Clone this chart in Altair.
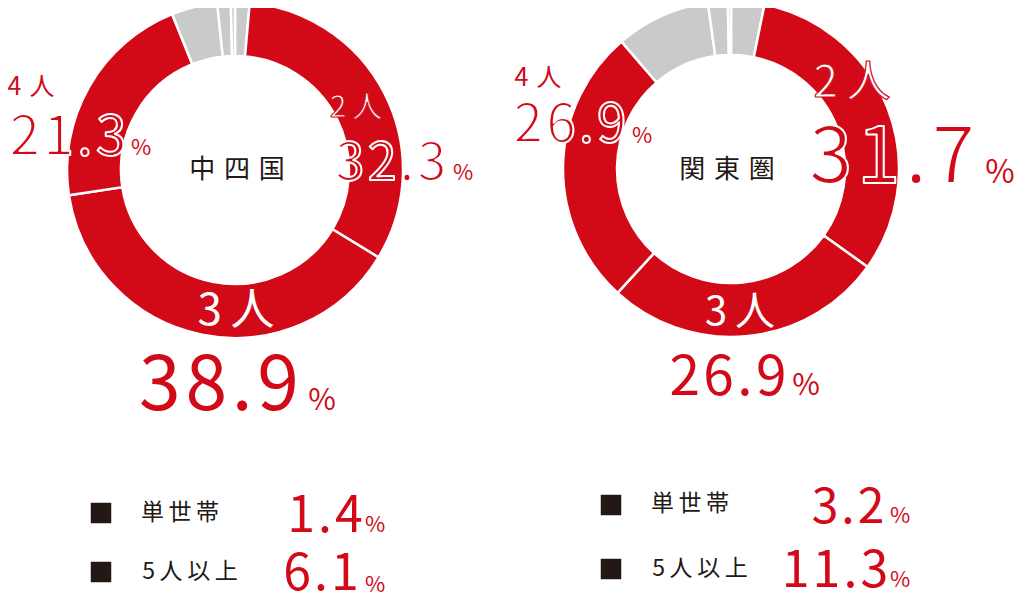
import altair as alt
import pandas as pd

# ---- data ----
ring_categories = ["単世帯", "2人", "3人", "4人", "5人", "6人", "7人以上"]
chushikoku_values = [1.4, 32.3, 38.9, 21.3, 4.4, 1.3, 0.4]
kanto_values = [3.2, 31.7, 26.9, 26.9, 9.1, 1.9, 0.3]
region_names = ["中四国", "関東圏"]
legend_labels = ["単世帯", "5人以上"]
chushikoku_legend_values = [1.4, 6.1]
kanto_legend_values = [3.2, 11.3]

RED = "#d20a18"
GREY = "#c9caca"
BLACK = "#231815"
FONT = "Noto Sans CJK JP"
OFF = 8


def spaced(s, sep="\u2009"):
    return sep.join(list(s))


def ring(values, cx, cy):
    df = pd.DataFrame({
        "category": ring_categories,
        "value": values,
        "idx": list(range(len(values))),
    })
    return alt.Chart(df).mark_arc(
        innerRadius=114, outerRadius=168, stroke="white", strokeWidth=2.5
    ).encode(
        theta=alt.Theta("value:Q", stack=True),
        order=alt.Order("idx:Q"),
        color=alt.Color(
            "category:N",
            scale=alt.Scale(
                domain=ring_categories,
                range=[GREY, RED, RED, RED, GREY, GREY, GREY],
            ),
            legend=None,
        ),
        x=alt.value(cx - OFF),
        y=alt.value(cy - OFF),
    )


def txt(s, x, y, size, color=RED, align="center", baseline="alphabetic",
        outline=None, outline_w=1.5, weight=400):
    df = pd.DataFrame({"label": [s]})
    props = dict(fontSize=size, font=FONT, align=align, baseline=baseline,
                 fontWeight=weight, color=color)
    if outline:
        props.update(stroke=outline, strokeWidth=outline_w, strokeJoin="round")
    return [alt.Chart(df).mark_text(**props).encode(
        x=alt.value(x - OFF), y=alt.value(y - OFF), text="label:N")]


def sq(x, y):
    df = pd.DataFrame({"k": [0]})
    return alt.Chart(df).mark_square(size=420, color=BLACK, opacity=1).encode(
        x=alt.value(x - OFF), y=alt.value(y - OFF)
    )


def pct(v):
    return spaced(f"{v:.1f}", "\u200a")


L = chushikoku_values
R = kanto_values
layers = [ring(L, 235, 170), ring(R, 731, 169)]

# left donut labels
layers += txt(spaced("4人", "\u2004"), 31, 95, 25)
layers += txt(pct(L[3]), 68, 155, 55, outline="white", outline_w=2)
layers += txt("%", 141, 155, 22)
layers += txt(spaced("2人"), 356, 117, 30, color="white", outline=RED, outline_w=1)
layers += txt(pct(L[1]), 391, 180, 52, outline="white", outline_w=2)
layers += txt("%", 463, 180, 22)
layers += txt(spaced("3人"), 236, 325, 44, color="white")
layers += txt(pct(L[2]), 219, 410, 75)
layers += txt("%", 322, 410, 30)
layers += txt(spaced(region_names[0], "\u2004"), 237, 170, 26, color=BLACK, baseline="middle")

# right donut labels
layers += txt(spaced("4人", "\u2004"), 538, 86, 25)
layers += txt(pct(R[3]), 570, 142, 53, outline="white", outline_w=2)
layers += txt("%", 642, 143, 22)
layers += txt(spaced("2人"), 852, 97, 44, color="white", outline=RED, outline_w=1.2)
layers += txt(pct(R[1]), 892, 183, 78, outline="white", outline_w=2)
layers += txt("%", 1000, 183, 32)
layers += txt(spaced("3人"), 740, 325, 40, color="white")
layers += txt(pct(R[2]), 728, 395, 55)
layers += txt("%", 806, 395, 30)
layers += txt(spaced(region_names[1], "\u2004"), 727, 170, 26, color=BLACK, baseline="middle")

# legends
layers.append(sq(101, 513))
layers += txt(spaced(legend_labels[0]), 180, 513, 23, color=BLACK, baseline="middle")
layers += txt(pct(chushikoku_legend_values[0]), 325, 532, 50)
layers += txt("%", 375, 532, 22)
layers.append(sq(101, 572))
layers += txt(spaced(legend_labels[1]), 190, 572, 23, color=BLACK, baseline="middle")
layers += txt(pct(chushikoku_legend_values[1]), 321, 590, 50)
layers += txt("%", 375, 592, 22)

layers.append(sq(611, 505))
layers += txt(spaced(legend_labels[0]), 690, 504, 23, color=BLACK, baseline="middle")
layers += txt(pct(kanto_legend_values[0]), 848, 523, 48)
layers += txt("%", 900, 523, 22)
layers.append(sq(611, 569))
layers += txt(spaced(legend_labels[1]), 700, 569, 23, color=BLACK, baseline="middle")
layers += txt(pct(kanto_legend_values[1]), 835, 587, 50)
layers += txt("%", 900, 587, 22)

chart = alt.layer(*layers).properties(
    width=1008, height=592, padding=0,
    autosize=alt.AutoSizeParams(type="none"),
).configure_view(stroke=None)

chart.save("out.html", embed_options={"renderer": "svg", "actions": False})
